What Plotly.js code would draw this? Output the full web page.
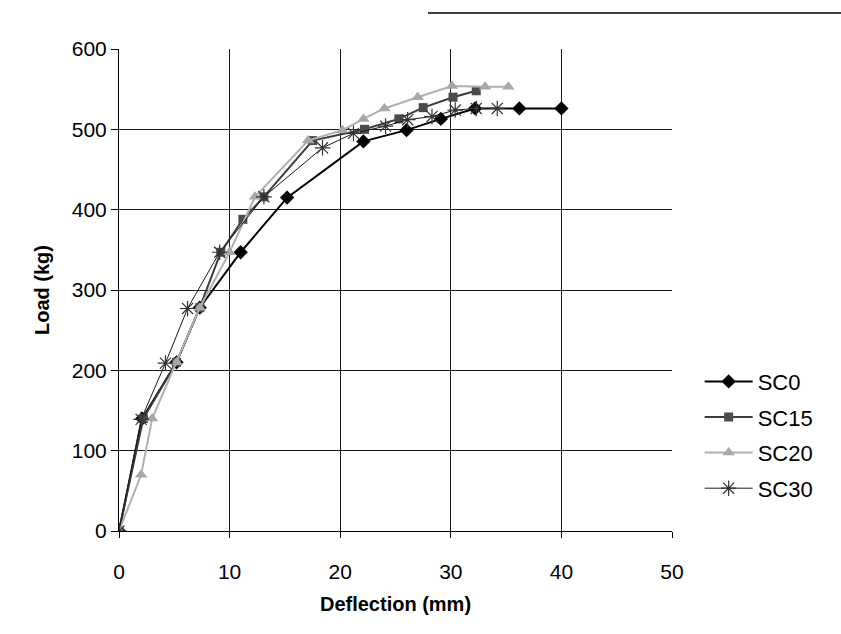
<!DOCTYPE html>
<html>
<head>
<meta charset="utf-8">
<script src="https://cdn.plot.ly/plotly-3.0.1.min.js"></script>
<style>
  html, body { margin: 0; padding: 0; background: #fff; }
  #chart { width: 841px; height: 634px; }
</style>
</head>
<body>
<div id="chart"></div>
<script>
// Load-deflection measurements for each specimen
const sc0Deflection  = [0, 2.1, 5.2, 7.3, 11.0, 15.2, 22.1, 26.0, 29.1, 32.2, 36.2, 40.0];
const sc0Load        = [0, 140, 210, 278, 347, 415, 485, 499, 513, 526, 526, 526];

const sc15Deflection = [0, 2.2, 5.2, 7.3, 9.2, 11.2, 13.1, 17.5, 22.2, 25.3, 27.5, 30.2, 32.3];
const sc15Load       = [0, 140, 210, 278, 347, 388, 416, 486, 500, 513, 527, 540, 548];

const sc20Deflection = [0, 2.0, 3.0, 5.2, 7.3, 10.0, 12.3, 17.1, 20.2, 22.1, 24.0, 27.0, 30.1, 33.1, 35.2];
const sc20Load       = [0, 70, 140, 210, 278, 347, 416, 486, 499, 513, 526, 540, 554, 553, 553];

const sc30Deflection = [0, 2.0, 4.2, 6.2, 9.1, 13.1, 18.4, 21.2, 24.1, 26.1, 28.3, 30.4, 32.3, 34.2];
const sc30Load       = [0, 139, 209, 277, 347, 416, 477, 495, 504, 512, 516, 524, 526, 526];

const seriesNames = ['SC0', 'SC15', 'SC20', 'SC30'];
const xTicks = [0, 10, 20, 30, 40, 50];
const yTicks = [0, 100, 200, 300, 400, 500, 600];

const font = 'Arial, "Liberation Sans", sans-serif';

const traces = [
  {
    x: sc0Deflection, y: sc0Load, name: seriesNames[0], legendgroup: 'a',
    mode: 'lines+markers', type: 'scatter',
    line: { color: '#000000', width: 2 },
    marker: { symbol: 'diamond', size: 11, color: '#000000' }
  },
  {
    x: sc15Deflection, y: sc15Load, name: seriesNames[1], legendgroup: 'b',
    mode: 'lines+markers', type: 'scatter',
    line: { color: '#3c3c3c', width: 2 },
    marker: { symbol: 'square', size: 9, color: '#4a4a4a' }
  },
  {
    x: sc20Deflection, y: sc20Load, name: seriesNames[2], legendgroup: 'c',
    mode: 'lines+markers', type: 'scatter',
    line: { color: '#b0b0b0', width: 2 },
    marker: { symbol: 'triangle-up', size: 11, color: '#a8a8a8' }
  },
  {
    x: sc30Deflection, y: sc30Load, name: seriesNames[3], legendgroup: 'd',
    mode: 'lines+markers', type: 'scatter',
    line: { color: '#1a1a1a', width: 1 },
    marker: { symbol: 'asterisk-open', size: 13, color: '#333333', line: { color: '#333333', width: 1.2 } }
  }
];

const layout = {
  width: 841, height: 634,
  margin: { l: 119, r: 169, t: 49, b: 103 },
  paper_bgcolor: '#ffffff', plot_bgcolor: '#ffffff',
  font: { family: font, color: '#000000', size: 21 },
  showlegend: true,
  legend: {
    x: 1.05, xanchor: 'left', y: 0.199, yanchor: 'middle',
    font: { family: font, size: 22, color: '#000000' },
    tracegroupgap: 4, itemwidth: 48,
    bgcolor: 'rgba(0,0,0,0)'
  },
  xaxis: {
    range: [0, 50], tickvals: xTicks, ticktext: xTicks.map(String),
    showgrid: true, gridcolor: '#1a1a1a', gridwidth: 1,
    showline: true, linecolor: '#000000', linewidth: 1,
    zeroline: false, ticks: 'outside', ticklen: 6, tickcolor: '#000000',
    ticklabelstandoff: 16,
    tickfont: { family: font, size: 21, color: '#000000' },
    title: { text: '<b>Deflection (mm)</b>', font: { family: font, size: 20, color: '#000000' }, standoff: 14 }
  },
  yaxis: {
    range: [0, 600], tickvals: yTicks, ticktext: yTicks.map(String),
    showgrid: true, gridcolor: '#1a1a1a', gridwidth: 1,
    showline: true, linecolor: '#000000', linewidth: 1,
    zeroline: false, ticks: 'outside', ticklen: 7, tickcolor: '#000000',
    ticklabelstandoff: 0,
    tickfont: { family: font, size: 21, color: '#000000' },
    title: { text: '<b>Load (kg)</b>', font: { family: font, size: 20, color: '#000000' }, standoff: 16 }
  },
  shapes: [
    {
      type: 'line', xref: 'paper', yref: 'paper',
      x0: 0.5588, x1: 1.31, y0: 1.0747, y1: 1.0747,
      line: { color: '#000000', width: 1.5 }
    }
  ]
};

Plotly.newPlot('chart', traces, layout, { displayModeBar: false, staticPlot: true });
</script>
</body>
</html>
